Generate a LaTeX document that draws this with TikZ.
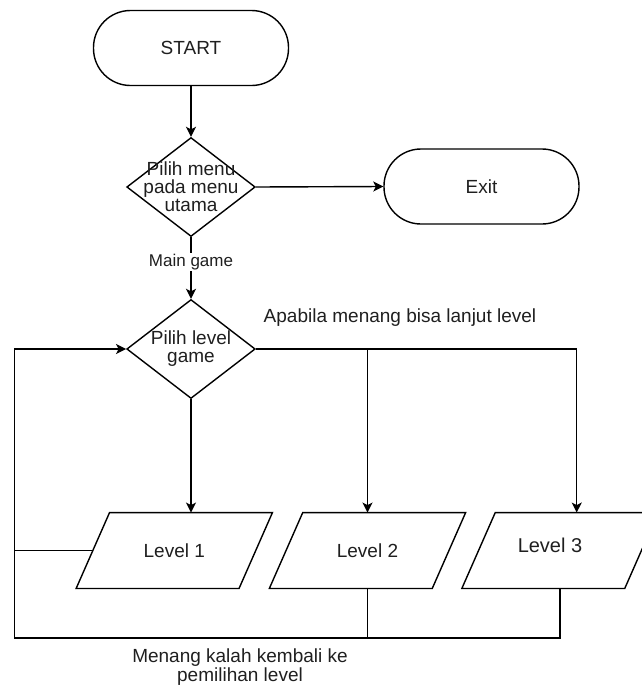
\documentclass[tikz,border=0pt]{standalone}
\usepackage{fontspec}
\setmainfont{Liberation Sans}
\usetikzlibrary{shapes.geometric,arrows.meta,calc}
\begin{document}
\begin{tikzpicture}[x=1pt,y=-1pt,
  line width=1.4pt,
  every node/.style={font=\fontsize{19}{18}\selectfont, text=black!88},
  term/.style={draw, rectangle, rounded corners=37pt, minimum width=195pt, minimum height=75pt, inner sep=0pt},
  dec/.style={draw, diamond, minimum width=128.5pt, minimum height=99pt, inner sep=0pt},
  lvl/.style={minimum width=161.5pt, minimum height=74.5pt, inner sep=0pt},
  arr/.style={-{Stealth[length=10pt,width=10pt,inset=2.5pt]}},
  lbl/.style={fill=white, inner sep=1pt, font=\fontsize{17}{17}\selectfont}
]
\useasboundingbox (0,0) rectangle (642,686);

% terminals and decisions
\node[term] (start) at (191,48) {START};
\node[dec, label={[align=center]center:Pilih menu\\pada menu\\utama}] (d1) at (191,187) {};
\node[term] (exit) at (481.5,186.5) {Exit};
\node[dec, label={[align=center]center:Pilih level\\game}] (d2) at (191,349) {};

% level nodes (parallelograms drawn below)
\node[lvl] (L1) at (174.3,550.5) {Level 1};
\node[lvl] (L2) at (367.5,550.5) {Level 2};
\node[lvl, label={[font=\fontsize{20}{20}\selectfont, xshift=-10pt, yshift=5pt]center:Level 3}] (L3) at (560,550.5) {};
\foreach \n in {L1,L2,L3}
  \draw ($(\n.north west)+(16.7,0)$) -- ($(\n.north east)+(16.7,0)$)
     -- ($(\n.south east)+(-16.7,0)$) -- ($(\n.south west)+(-16.7,0)$) -- cycle;

% texts
\node (note1) at (400,318) {Apabila menang bisa lanjut level};
\node[align=center, font=\fontsize{19}{17.6}\selectfont] (note2) at (240,667) {Menang kalah kembali ke\\pemilihan level};

% connectors
\draw[arr] (start) -- (d1);
\draw[arr] (d1.east) -- (exit.west);
\draw[arr] (d1.south) -- node[lbl, pos=0.4] (mg) {Main game} (d2.north);

\coordinate (t1) at ($(L1.north)+(16.7,0)$);
\coordinate (t3) at ($(L3.north)+(16.7,0)$);
\draw[arr] (d2.south) -- (t1);
\draw (d2.east) -- (d2.east -| t3);
\draw[arr] (d2.east -| L2.north) -- (L2.north);
\draw[arr] (d2.east -| t3) -- (t3);

% return loop
\coordinate (c1) at (14.4,550.5);
\coordinate (c2) at (14.4,638);
\draw[arr] (L1.west) -- (c1) |- (d2.west);
\draw (L2.south) |- (c2) -- (c1);
\draw (L3.south) |- (L2.south |- c2);
\end{tikzpicture}
\end{document}
